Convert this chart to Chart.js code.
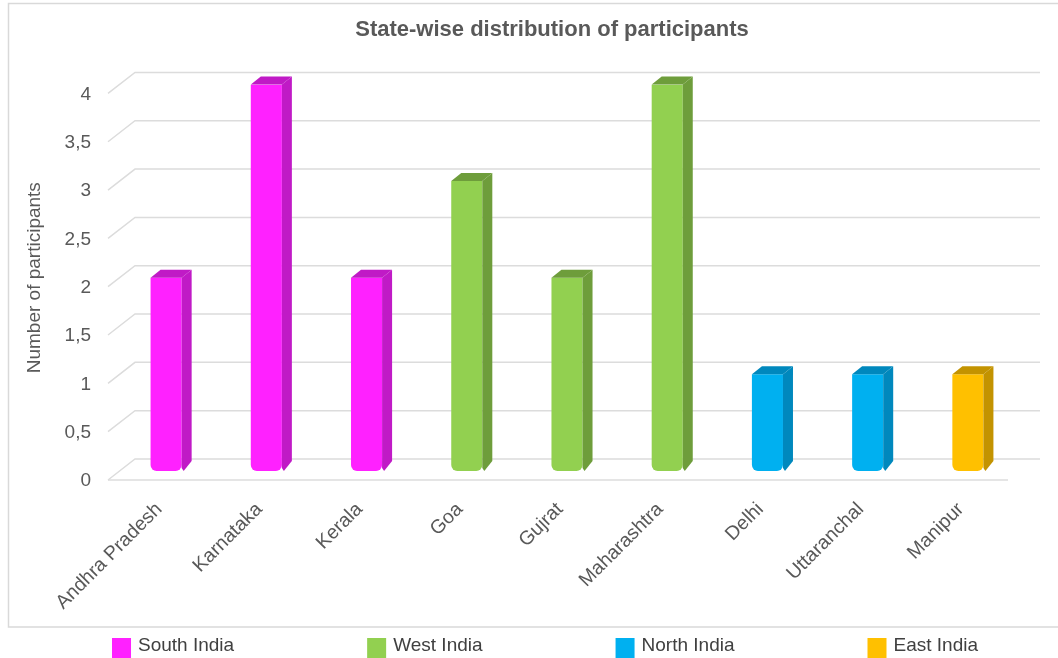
<!DOCTYPE html>
<html>
<head>
<meta charset="utf-8">
<script src="https://cdn.jsdelivr.net/npm/chart.js@4.4.1/dist/chart.umd.min.js"></script>
<style>
  html, body { margin: 0; padding: 0; background: #fff; }
  canvas { display: block; }
</style>
</head>
<body>
<canvas id="chart" width="1058" height="658"></canvas>
<script>
const states       = ['Andhra Pradesh', 'Karnataka', 'Kerala', 'Goa', 'Gujrat', 'Maharashtra', 'Delhi', 'Uttaranchal', 'Manipur'];
const participants = [2, 4, 2, 3, 2, 4, 1, 1, 1];
const stateRegion  = [0, 0, 0, 1, 1, 1, 2, 2, 3];   // index into regions
const regions      = ['South India', 'West India', 'North India', 'East India'];
const frontColors  = ['#FF21FF', '#92D050', '#00B0F0', '#FFC000'];
const sideColors   = ['#C01AC6', '#6E9D3B', '#0088BD', '#C39300'];
const yMax  = 4;
const yStep = 0.5;

const TEXT = '#595959';
const FONT = "'Liberation Sans', Arial, sans-serif";
const DX = 10, DY = 8;   // depth of each bar

// light border round the plot + the 3D wall/floor gridlines
const wall = {
  id: 'wall',
  beforeDraw(chart) {
    const { ctx } = chart;
    ctx.save();
    ctx.strokeStyle = '#D9D9D9';
    ctx.lineWidth = 1.5;
    ctx.strokeRect(8.5, 3.5, 1200, 623.5);
    ctx.restore();
  },
  beforeDatasetsDraw(chart) {
    const { ctx, chartArea: { left, right }, scales: { y } } = chart;
    ctx.save();
    ctx.strokeStyle = '#DCDCDC';
    ctx.lineWidth = 1.5;
    y.ticks.forEach(t => {
      const py = y.getPixelForValue(t.value);
      ctx.beginPath();
      ctx.moveTo(left - 8, py + 9);
      ctx.lineTo(left + 19, py - 12);
      ctx.lineTo(right + 22, py - 12);
      ctx.stroke();
    });
    const p0 = y.getPixelForValue(0);
    ctx.beginPath();
    ctx.moveTo(left - 8, p0 + 9);
    ctx.lineTo(right - 10, p0 + 9);
    ctx.stroke();
    ctx.restore();
  }
};

// side and top faces of the bars
const bar3d = {
  id: 'bar3d',
  afterDatasetsDraw(chart) {
    const { ctx } = chart;
    ctx.save();
    chart.getDatasetMeta(0).data.forEach((bar, i) => {
      const { x, y, base, width } = bar.getProps(['x', 'y', 'base', 'width'], true);
      const l = x - width / 2, r = x + width / 2;
      ctx.fillStyle = sideColors[stateRegion[i]];
      ctx.beginPath();
      ctx.moveTo(r, y);
      ctx.lineTo(r + DX, y - DY);
      ctx.lineTo(r + DX, base - DY - 2);
      ctx.lineTo(r + 2, base);
      ctx.lineTo(r, base - 3);
      ctx.closePath();
      ctx.fill();
      ctx.beginPath();
      ctx.moveTo(l, y);
      ctx.lineTo(l + DX, y - DY);
      ctx.lineTo(r + DX, y - DY);
      ctx.lineTo(r, y);
      ctx.closePath();
      ctx.fill();
    });
    ctx.restore();
  }
};

// region legend under the frame
const regionLegend = {
  id: 'regionLegend',
  afterDraw(chart) {
    const { ctx } = chart;
    const box = 19, textGap = 7, gap = 133;
    ctx.save();
    ctx.font = `19px ${FONT}`;
    ctx.textBaseline = 'middle';
    const widths = regions.map(r => box + textGap + ctx.measureText(r).width);
    const total = widths.reduce((a, b) => a + b, 0) + gap * (regions.length - 1);
    let x = 545 - total / 2;
    regions.forEach((r, i) => {
      ctx.fillStyle = frontColors[i];
      ctx.fillRect(x, 638, box, 20);
      ctx.fillStyle = '#404040';
      ctx.fillText(r, x + box + textGap, 646);
      x += widths[i] + gap;
    });
    ctx.restore();
  }
};

new Chart(document.getElementById('chart'), {
  type: 'bar',
  data: {
    labels: states,
    datasets: [{
      data: participants,
      backgroundColor: stateRegion.map(r => frontColors[r]),
      borderWidth: 0,
      borderSkipped: false,
      borderRadius: { topLeft: 0, topRight: 0, bottomLeft: 6, bottomRight: 6 },
      barPercentage: 0.31,
      categoryPercentage: 1,
    }],
  },
  options: {
    responsive: false,
    animation: false,
    devicePixelRatio: 1,
    layout: { padding: { left: 46, right: 0, top: 0, bottom: 40 } },
    plugins: {
      legend: { display: false },
      tooltip: { enabled: false },
      title: {
        display: true,
        text: 'State-wise distribution of participants',
        color: TEXT,
        font: { family: FONT, size: 22, weight: 'bold' },
        padding: { top: 17, bottom: 41 },
      },
    },
    scales: {
      x: {
        grid:   { display: false, drawTicks: false },
        border: { display: false },
        ticks: {
          color: TEXT,
          font: { family: FONT, size: 19.5 },
          minRotation: 45,
          maxRotation: 45,
          autoSkip: false,
          padding: 27,
          labelOffset: -7,
        },
        afterFit(s) { s.height = 147; },
      },
      y: {
        min: 0,
        max: yMax,
        grid:   { display: false, drawTicks: false },
        border: { display: false },
        ticks: {
          stepSize: yStep,
          color: TEXT,
          font: { family: FONT, size: 19 },
          padding: 25,
          labelOffset: 10,
          callback: v => String(v).replace('.', ','),
        },
        title: {
          display: true,
          text: 'Number of participants',
          color: TEXT,
          font: { family: FONT, size: 19 },
          padding: { top: -22.4, bottom: 0 },
        },
        afterFit(s) { s.width = 70; },
      },
      yRight: {
        position: 'right',
        grid:   { display: false, drawTicks: false },
        border: { display: false },
        ticks:  { display: false },
        afterFit(s) { s.width = 40; },
      },
    },
  },
  plugins: [wall, bar3d, regionLegend],
});
</script>
</body>
</html>
